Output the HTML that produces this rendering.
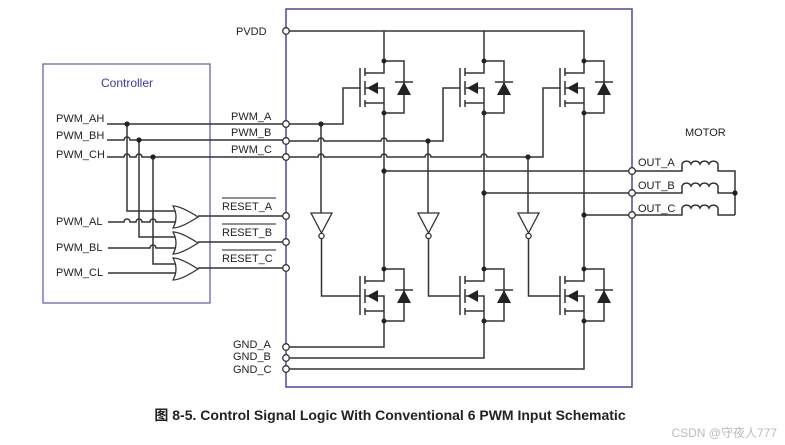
<!DOCTYPE html>
<html><head><meta charset="utf-8"><style>
body{margin:0;background:#fff;width:785px;height:445px;overflow:hidden}
svg{display:block}
text{font-family:"Liberation Sans","Noto Sans CJK SC",sans-serif;fill:#222}
</style></head><body>
<svg width="785" height="445" viewBox="0 0 785 445">
<defs>
<g id="fet" stroke="#333" stroke-width="1.5" fill="none">
<line x1="-24" y1="7" x2="-24" y2="46"/>
<line x1="-19" y1="7" x2="-19" y2="15"/>
<line x1="-19" y1="20" x2="-19" y2="34"/>
<line x1="-19" y1="39" x2="-19" y2="46"/>
<path d="M-19 12H0V0M-19 27H0V52M-19 42H0"/>
<polygon points="-17,27 -6,21 -6,33" fill="#222" stroke="none"/>
<path d="M0 0H20V52H0"/>
<polygon points="20,21 13,34 27,34" fill="#222" stroke="none"/>
<line x1="11" y1="21" x2="29" y2="21"/>
<circle cx="0" cy="0" r="2.5" fill="#222" stroke="none"/>
<circle cx="0" cy="52" r="2.5" fill="#222" stroke="none"/>
</g>
<g id="inv" stroke="#333" stroke-width="1.3" fill="#fff">
<polygon points="-10,0 11,0 0.5,20"/>
<circle cx="0.5" cy="23" r="2.6"/>
</g>
<g id="or" stroke="#333" stroke-width="1.3" fill="#fff">
<path d="M0 0 Q8 0 25 11 Q8 22 0 22 Q6 11 0 0Z"/>
</g>
</defs>

<!-- boxes -->
<rect x="43" y="64" width="167" height="239" fill="none" stroke="#5a5aaa" stroke-width="1.2"/>
<rect x="286" y="9" width="346" height="378" fill="none" stroke="#4a4aa0" stroke-width="1.5"/>
<text x="127" y="87" font-size="12" text-anchor="middle" fill="#3a3aa0" style="fill:#3a3aa0">Controller</text>

<g stroke="#333" stroke-width="1.5" fill="none">
<!-- PVDD -->
<path d="M286 31H584V61M384 31V61M484 31V61"/>
<!-- left side high inputs -->
<path d="M107 124H286"/>
<path d="M107 140H124a3 3 0 0 1 6 0H286"/>
<path d="M107 157H124a3 3 0 0 1 6 0H136a3 3 0 0 1 6 0H286"/>
<path d="M127 124V211H176"/>
<path d="M139 140V237H176"/>
<path d="M153 157V264H176"/>
<path d="M108 222H124a3 3 0 0 1 6 0H136a3 3 0 0 1 6 0H150a3 3 0 0 1 6 0H176"/>
<path d="M108 248H150a3 3 0 0 1 6 0H176"/>
<path d="M108 273H176"/>
<!-- OR outputs -->
<path d="M198 216H286M198 242H286M198 268H286"/>
<!-- internal PWM lines -->
<path d="M286 124H343V88H360"/>
<path d="M286 141H318a3 3 0 0 1 6 0H381a3 3 0 0 1 6 0H443V88H460"/>
<path d="M286 157H318a3 3 0 0 1 6 0H381a3 3 0 0 1 6 0H425a3 3 0 0 1 6 0H481a3 3 0 0 1 6 0H543V88H560"/>
<!-- inverter feeds -->
<path d="M321 124V213M428 141V213M528 157V213"/>
<path d="M321.5 239V296H360M428.5 239V296H460M528.5 239V296H560"/>
<!-- phase verticals -->
<path d="M384 113V269M484 113V269M584 113V269"/>
<!-- outs -->
<path d="M384 171H632M484 193H632M584 215H632"/>
<!-- gnds -->
<path d="M384 321V347H286M484 321V358H286M584 321V369H286"/>
<!-- motor -->
<path d="M632 171H682V164a5 5 0 0 1 9 0a5 5 0 0 1 9 0a5 5 0 0 1 9 0a5 5 0 0 1 9 0V171H735V215"/>
<path d="M632 193H682V186a5 5 0 0 1 9 0a5 5 0 0 1 9 0a5 5 0 0 1 9 0a5 5 0 0 1 9 0V193H735"/>
<path d="M632 215H682V208a5 5 0 0 1 9 0a5 5 0 0 1 9 0a5 5 0 0 1 9 0a5 5 0 0 1 9 0V215H735"/>
</g>

<use href="#fet" x="384" y="61"/><use href="#fet" x="484" y="61"/><use href="#fet" x="584" y="61"/>
<use href="#fet" x="384" y="269"/><use href="#fet" x="484" y="269"/><use href="#fet" x="584" y="269"/>
<use href="#inv" x="321" y="213"/><use href="#inv" x="428" y="213"/><use href="#inv" x="528" y="213"/>
<use href="#or" x="173" y="206"/><use href="#or" x="173" y="232"/><use href="#or" x="173" y="258"/>

<g fill="#222">
<circle cx="127" cy="124" r="2.6"/><circle cx="139" cy="140" r="2.6"/><circle cx="153" cy="157" r="2.6"/>
<circle cx="321" cy="124" r="2.6"/><circle cx="428" cy="141" r="2.6"/><circle cx="528" cy="157" r="2.6"/>
<circle cx="384" cy="171" r="2.6"/><circle cx="484" cy="193" r="2.6"/><circle cx="584" cy="215" r="2.6"/>
<circle cx="735" cy="193" r="2.6"/>
</g>

<g fill="#fff" stroke="#333" stroke-width="1.3">
<circle cx="286" cy="31" r="3.3"/>
<circle cx="286" cy="124" r="3.3"/><circle cx="286" cy="141" r="3.3"/><circle cx="286" cy="157" r="3.3"/>
<circle cx="286" cy="216" r="3.3"/><circle cx="286" cy="242" r="3.3"/><circle cx="286" cy="268" r="3.3"/>
<circle cx="286" cy="347" r="3.3"/><circle cx="286" cy="358" r="3.3"/><circle cx="286" cy="369" r="3.3"/>
<circle cx="632" cy="171" r="3.3"/><circle cx="632" cy="193" r="3.3"/><circle cx="632" cy="215" r="3.3"/>
</g>

<g font-size="11">
<text x="236" y="35">PVDD</text>
<text x="56" y="122">PWM_AH</text>
<text x="56" y="139">PWM_BH</text>
<text x="56" y="158">PWM_CH</text>
<text x="56" y="225">PWM_AL</text>
<text x="56" y="251">PWM_BL</text>
<text x="56" y="276">PWM_CL</text>
<text x="231" y="120">PWM_A</text>
<text x="231" y="136">PWM_B</text>
<text x="231" y="153">PWM_C</text>
<text x="222" y="210">RESET_A</text>
<text x="222" y="236">RESET_B</text>
<text x="222" y="262">RESET_C</text>
<text x="233" y="348">GND_A</text>
<text x="233" y="360">GND_B</text>
<text x="233" y="373">GND_C</text>
<text x="638" y="166">OUT_A</text>
<text x="638" y="189">OUT_B</text>
<text x="638" y="212">OUT_C</text>
<text x="685" y="136">MOTOR</text>
</g>
<g stroke="#222" stroke-width="0.9">
<line x1="222" y1="198" x2="276" y2="198"/>
<line x1="222" y1="224" x2="276" y2="224"/>
<line x1="222" y1="250" x2="276" y2="250"/>
</g>

<text x="390" y="420" font-size="14" font-weight="bold" text-anchor="middle">图 8-5. Control Signal Logic With Conventional 6 PWM Input Schematic</text>
<text x="777" y="437" font-size="12" text-anchor="end" style="fill:#bbb">CSDN @守夜人777</text>
</svg>
</body></html>
